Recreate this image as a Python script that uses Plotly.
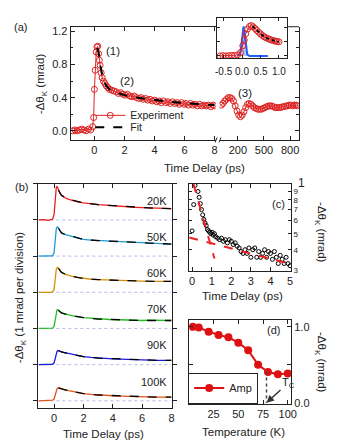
import plotly.graph_objects as go
import math

W, H = 337, 448
def X(p): return p / W
def Y(p): return 1 - p / H

RED = "#dd2222"
INK = "#222222"
FONT = "Liberation Sans, Arial, sans-serif"

# ---------------- data: panel (a) ----------------
a_t = [-1.45, -1.3, -1.15, -1.0, -0.85, -0.7, -0.55, -0.4, -0.25, -0.12, -0.05, 0.0, 0.05, 0.12, 0.17,
       0.22, 0.28, 0.33, 0.38, 0.45, 0.52, 0.6, 0.7, 0.8, 0.9, 1.0, 1.15, 1.3, 1.45, 1.6, 1.75, 1.9,
       2.05, 2.2, 2.35, 2.5, 2.65, 2.8, 2.95, 3.1, 3.25, 3.4, 3.55, 3.7, 3.85, 4.0, 4.15, 4.3, 4.45,
       4.6, 4.75, 4.9, 5.05, 5.2, 5.35, 5.5, 5.65, 5.8, 5.95, 6.1, 6.25, 6.4, 6.55, 6.7, 6.85, 7.0,
       7.15, 7.3, 7.45, 7.6, 7.75, 7.9, 8.0]
a_v = [0.00, 0.01, 0.00, 0.01, 0.02, 0.01, 0.00, 0.02, 0.01, 0.05, 0.16, 0.50, 0.73, 0.95, 1.01,
       1.02, 0.93, 0.85, 0.79, 0.70, 0.64, 0.60, 0.57, 0.54, 0.52, 0.50, 0.49, 0.48, 0.47, 0.45, 0.46, 0.44,
       0.43, 0.44, 0.42, 0.41, 0.42, 0.40, 0.39, 0.40, 0.38, 0.39, 0.37, 0.38, 0.36, 0.37, 0.35, 0.36, 0.34,
       0.36, 0.34, 0.35, 0.33, 0.35, 0.33, 0.34, 0.32, 0.34, 0.32, 0.33, 0.31, 0.33, 0.31, 0.32, 0.30, 0.32,
       0.30, 0.31, 0.30, 0.31, 0.29, 0.31, 0.30]
fit_t = [0.2, 0.3, 0.4, 0.5, 0.6, 0.8, 1.0, 1.5, 2.0, 3.0, 4.0, 5.0, 6.0, 7.0, 8.0]
fit_v = [1.0, 0.92, 0.78, 0.68, 0.61, 0.54, 0.50, 0.46, 0.43, 0.395, 0.37, 0.35, 0.335, 0.32, 0.31]

long_t = [10, 30, 50, 70, 90, 110, 130, 150, 170, 190, 210, 230, 250, 270, 290, 310, 330, 350, 370,
          390, 410, 430, 450, 470, 490, 510, 530, 550, 570, 590, 610, 630, 650, 670, 690, 710, 730,
          750, 770, 790, 810, 830, 850, 870, 885]
long_v = [0.31, 0.33, 0.36, 0.38, 0.40, 0.40, 0.39, 0.36, 0.30, 0.24, 0.19, 0.17, 0.19, 0.23, 0.28,
          0.32, 0.33, 0.32, 0.30, 0.28, 0.27, 0.26, 0.26, 0.26, 0.27, 0.28, 0.29, 0.30, 0.30, 0.30,
          0.29, 0.28, 0.28, 0.28, 0.28, 0.29, 0.29, 0.30, 0.30, 0.31, 0.31, 0.30, 0.31, 0.31, 0.30]

# inset
ins_t = [-0.6, -0.52, -0.44, -0.36, -0.28, -0.2, -0.12, -0.04, 0.02, 0.06, 0.1, 0.15, 0.2, 0.25, 0.3,
         0.35, 0.4, 0.45, 0.5, 0.55, 0.6, 0.65, 0.7, 0.75, 0.8, 0.85, 0.9, 0.95, 1.0]
ins_v = [0.0, 0.01, 0.0, 0.01, 0.02, 0.02, 0.04, 0.12, 0.35, 0.55, 0.77, 0.93, 1.02, 1.05, 1.01,
         0.95, 0.88, 0.82, 0.76, 0.71, 0.66, 0.63, 0.60, 0.57, 0.55, 0.53, 0.51, 0.50, 0.49]
ins_fit_t = [0.28, 0.4, 0.5, 0.6, 0.7, 0.8, 0.9, 1.0]
ins_fit_v = [1.03, 0.88, 0.76, 0.66, 0.60, 0.55, 0.51, 0.49]
pulse_t = [-0.12, -0.06, -0.02, 0.01, 0.04, 0.07, 0.1, 0.14, 0.2, 0.7]
pulse_v = [0.0, 0.05, 0.35, 0.8, 1.02, 0.8, 0.35, 0.05, 0.0, 0.0]

# ---------------- data: panel (b) ----------------
temps = ["20K", "50K", "60K", "70K", "90K", "100K"]
colors_b = ["#ee1c1c", "#1f9ad6", "#d4900a", "#22bb22", "#1c1cdc", "#e0561a"]
t_b = [-1.05, -0.7, -0.4, -0.2, -0.1, 0.0, 0.05, 0.1, 0.15, 0.2, 0.25, 0.3, 0.4, 0.5, 0.7, 1.0,
       1.3, 1.6, 2.0, 2.5, 3.0, 3.5, 4.0, 4.5, 5.0, 5.5, 6.0, 6.5, 7.0, 7.5, 8.0]
v_20K = [0.0, 0.01, -0.01, 0.0, 0.02, 0.15, 0.45, 0.75, 0.9, 0.93, 0.88, 0.82, 0.74, 0.68, 0.62, 0.57,
         0.53, 0.5, 0.47, 0.44, 0.42, 0.41, 0.39, 0.38, 0.36, 0.35, 0.34, 0.33, 0.32, 0.32, 0.31]
v_50K = [0.0, 0.0, 0.01, 0.0, 0.01, 0.1, 0.35, 0.6, 0.75, 0.8, 0.81, 0.77, 0.7, 0.64, 0.6, 0.57,
         0.53, 0.5, 0.46, 0.44, 0.43, 0.42, 0.41, 0.39, 0.38, 0.37, 0.36, 0.35, 0.34, 0.34, 0.33]
v_60K = [0.0, 0.01, 0.0, 0.0, 0.01, 0.08, 0.3, 0.5, 0.63, 0.68, 0.69, 0.66, 0.6, 0.55, 0.5, 0.46,
         0.43, 0.41, 0.38, 0.36, 0.35, 0.34, 0.33, 0.32, 0.32, 0.31, 0.31, 0.3, 0.3, 0.3, 0.3]
v_70K = [0.0, 0.0, 0.01, 0.0, 0.01, 0.06, 0.2, 0.35, 0.46, 0.51, 0.52, 0.5, 0.46, 0.43, 0.4, 0.37,
         0.34, 0.32, 0.3, 0.28, 0.26, 0.25, 0.24, 0.24, 0.23, 0.23, 0.22, 0.23, 0.22, 0.22, 0.22]
v_90K = [0.0, 0.0, 0.01, 0.0, 0.01, 0.05, 0.15, 0.26, 0.33, 0.37, 0.39, 0.39, 0.37, 0.35, 0.33, 0.3,
         0.27, 0.25, 0.22, 0.2, 0.18, 0.17, 0.16, 0.15, 0.14, 0.14, 0.13, 0.13, 0.12, 0.12, 0.12]
v_100K = [0.0, 0.01, 0.0, 0.01, 0.02, 0.05, 0.14, 0.24, 0.3, 0.33, 0.35, 0.36, 0.35, 0.33, 0.31, 0.28,
          0.25, 0.23, 0.2, 0.18, 0.16, 0.15, 0.14, 0.13, 0.12, 0.12, 0.11, 0.11, 0.1, 0.1, 0.1]
tf_b = [0.3, 0.5, 1.0, 1.5, 2.0, 3.0, 4.0, 5.0, 6.0, 7.0, 8.0]
f_20K = [0.82, 0.68, 0.57, 0.51, 0.47, 0.42, 0.39, 0.36, 0.34, 0.32, 0.31]
f_50K = [0.77, 0.64, 0.57, 0.51, 0.46, 0.43, 0.41, 0.38, 0.36, 0.34, 0.33]
f_60K = [0.66, 0.55, 0.46, 0.42, 0.38, 0.35, 0.33, 0.32, 0.31, 0.30, 0.30]
f_70K = [0.50, 0.43, 0.37, 0.33, 0.30, 0.26, 0.24, 0.23, 0.22, 0.22, 0.22]
f_90K = [0.39, 0.35, 0.30, 0.26, 0.22, 0.18, 0.16, 0.14, 0.13, 0.12, 0.12]
f_100K = [0.36, 0.33, 0.28, 0.24, 0.20, 0.16, 0.14, 0.12, 0.11, 0.10, 0.10]
vals_b = [v_20K, v_50K, v_60K, v_70K, v_90K, v_100K]
fits_b = [f_20K, f_50K, f_60K, f_70K, f_90K, f_100K]

# ---------------- data: panel (c) ----------------
c_t = [0.0, 0.08, 0.15, 0.3, 0.36, 0.42, 0.48, 0.54, 0.6, 0.66, 0.72, 0.78, 0.84, 0.9, 0.96, 1.02,
       1.08, 1.14, 1.2, 1.3, 1.4, 1.5, 1.6, 1.7, 1.8, 1.9, 2.0, 2.1, 2.2, 2.3, 2.4, 2.5, 2.6, 2.7,
       2.8, 2.9, 3.0, 3.1, 3.2, 3.3, 3.4, 3.5, 3.6, 3.7, 3.8, 3.9, 4.0, 4.1, 4.2, 4.3, 4.4, 4.5,
       4.6, 4.7, 4.8, 4.9, 5.0]
c_v = [0.52, 0.75, 0.98, 0.90, 0.83, 0.76, 0.70, 0.65, 0.61, 0.58, 0.56, 0.53, 0.52, 0.51, 0.50, 0.51,
       0.49, 0.50, 0.48, 0.47, 0.46, 0.47, 0.45, 0.46, 0.44, 0.46, 0.45, 0.43, 0.44, 0.42, 0.41, 0.39,
       0.38, 0.40, 0.38, 0.41, 0.36, 0.40, 0.41, 0.36, 0.39, 0.36, 0.38, 0.40, 0.36, 0.39, 0.38, 0.35,
       0.39, 0.36, 0.33, 0.37, 0.35, 0.33, 0.36, 0.33, 0.32]
fast_t = [0.07, 1.14]
fast_v = [1.0, 0.354]
slow_t = [-0.15, 5.05]
slow_v = [0.475, 0.327]

# ---------------- data: panel (d) ----------------
d_T = [4, 10, 20, 30, 40, 50, 60, 70, 80, 90, 100]
d_amp = [1.0, 0.99, 0.935, 0.89, 0.86, 0.79, 0.69, 0.50, 0.405, 0.375, 0.385]
Tc = 78.5
tc_line_v = [0.41, 0.0]

fig = go.Figure()

# panel (a)
fig.add_trace(go.Scatter(x=a_t, y=a_v, xaxis="x", yaxis="y", mode="lines+markers", name="Experiment",
                         line=dict(color=RED, width=1),
                         marker=dict(symbol="circle-open", size=6, color=RED, line=dict(width=1)),
                         legend="legend"))
fig.add_trace(go.Scatter(x=fit_t, y=fit_v, xaxis="x", yaxis="y", mode="lines", name="Fit",
                         line=dict(color="black", width=2, dash="dash"), legend="legend3"))
fig.add_trace(go.Scatter(x=long_t, y=long_v, xaxis="x2", yaxis="y2", mode="lines+markers", showlegend=False,
                         line=dict(color=RED, width=1),
                         marker=dict(symbol="circle-open", size=6, color=RED, line=dict(width=1))))
# inset
fig.add_trace(go.Scatter(x=pulse_t, y=pulse_v, xaxis="x3", yaxis="y3", mode="lines", showlegend=False,
                         fill="tozeroy", fillcolor="rgba(90,140,255,0.45)",
                         line=dict(color="#1f5fff", width=2)))
fig.add_trace(go.Scatter(x=ins_t, y=ins_v, xaxis="x3", yaxis="y3", mode="lines+markers", showlegend=False,
                         line=dict(color=RED, width=1),
                         marker=dict(symbol="circle-open", size=6, color=RED, line=dict(width=1))))
fig.add_trace(go.Scatter(x=ins_fit_t, y=ins_fit_v, xaxis="x3", yaxis="y3", mode="lines", showlegend=False,
                         line=dict(color="black", width=2, dash="dot")))

# panel (b)
n = len(temps)
for i, (lab, col, vals, fv) in enumerate(zip(temps, colors_b, vals_b, fits_b)):
    k = n - 1 - i
    fig.add_trace(go.Scatter(x=t_b, y=[v + k for v in vals], xaxis="x4", yaxis="y4", mode="lines",
                             showlegend=False, line=dict(color=col, width=1.3)))
    fig.add_trace(go.Scatter(x=tf_b, y=[v + k for v in fv], xaxis="x4", yaxis="y4", mode="lines",
                             showlegend=False, line=dict(color="black", width=1.3, dash="dash")))

# panel (c)
fig.add_trace(go.Scatter(x=c_t, y=c_v, xaxis="x5", yaxis="y5", mode="markers", showlegend=False,
                         marker=dict(symbol="circle-open", size=4, color="black", line=dict(width=1))))
fig.add_trace(go.Scatter(x=fast_t, y=fast_v, xaxis="x5", yaxis="y5", mode="lines", showlegend=False,
                         line=dict(color="#ee2222", width=2, dash="dash")))
fig.add_trace(go.Scatter(x=slow_t, y=slow_v, xaxis="x5", yaxis="y5", mode="lines", showlegend=False,
                         line=dict(color="#ee2222", width=2, dash="dash")))

# panel (d)
fig.add_trace(go.Scatter(x=d_T, y=d_amp, xaxis="x6", yaxis="y6", mode="lines+markers", name="Amp",
                         line=dict(color="#dd1111", width=2),
                         marker=dict(symbol="circle", size=8, color="#dd1111"), legend="legend2"))
fig.add_trace(go.Scatter(x=[Tc, Tc], y=tc_line_v, xaxis="x6", yaxis="y6", mode="lines", showlegend=False,
                         line=dict(color="#444444", width=1.5, dash="dot")))

ax = dict(showline=True, linecolor=INK, linewidth=1, ticks="inside", ticklen=4, tickcolor=INK,
          showgrid=False, zeroline=False, tickangle=0, tickfont=dict(size=11, color=INK, family=FONT))

fig.update_layout(
    width=W, height=H, autosize=False, margin=dict(l=0, r=0, t=0, b=0),
    paper_bgcolor="white", plot_bgcolor="rgba(0,0,0,0)",
    font=dict(family=FONT, size=11, color=INK),
    xaxis=dict(ax, domain=[X(63), X(211)], range=[-1.58, 8.07], anchor="y", tickvals=[0, 2, 4, 6, 8],
               mirror="ticks"),
    yaxis=dict(ax, domain=[Y(132), Y(17)], range=[-0.11, 1.255], anchor="x",
               tickvals=[0, 0.4, 0.8, 1.2], ticktext=["0.0", "0.4", "0.8", "1.2"],
               minor=dict(dtick=0.2, ticks="inside", ticklen=2.5, tickcolor=INK)),
    xaxis2=dict(ax, domain=[X(215), X(296)], range=[-10, 900], anchor="y2", tickvals=[200, 500, 800]),
    yaxis2=dict(ax, domain=[Y(132), Y(17)], range=[-0.11, 1.255], anchor="x2", side="right",
                showticklabels=False, tickvals=[0, 0.4, 0.8, 1.2],
                minor=dict(dtick=0.2, ticks="inside", ticklen=2.5, tickcolor=INK)),
    xaxis3=dict(ax, domain=[X(212), X(284)], range=[-0.69, 1.22], anchor="y3", mirror="ticks",
                tickvals=[-0.5, 0, 0.5, 1.0], ticktext=["-0.5", "0.0", "0.5", "1.0"], ticklen=3,
                ticklabelstandoff=4, tickfont=dict(size=10, color=INK, family=FONT)),
    yaxis3=dict(ax, domain=[Y(49), Y(8.5)], range=[-0.08, 1.30], anchor="x3", mirror="ticks",
                tickvals=[0, 0.5, 1.0], showticklabels=False, ticklen=3),
    xaxis4=dict(ax, domain=[X(30), X(166)], range=[-1.07, 8.0], anchor="y4", mirror="ticks",
                tickvals=[0, 2, 4, 6, 8]),
    yaxis4=dict(ax, domain=[Y(404), Y(176.5)], range=[-0.19, 6.0], anchor="x4", mirror="ticks",
                tickvals=[0, 1, 2, 3, 4, 5, 6], showticklabels=False, ticks="outside"),
    xaxis5=dict(ax, domain=[X(184), X(288)], range=[-0.15, 5.05], anchor="y5", mirror="ticks",
                tickvals=[0, 1, 2, 3, 4, 5]),
    yaxis5=dict(ax, type="log", domain=[Y(265), Y(176.7)], range=[math.log10(0.298), 0], anchor="x5",
                side="right", mirror="ticks", tickvals=[0.3, 0.4, 0.5, 0.6, 0.7, 0.8, 0.9],
                ticktext=["3", "4", "5", "6", "7", "8", "9"], ticklen=3,
                tickfont=dict(size=8, color=INK, family=FONT)),
    xaxis6=dict(ax, domain=[X(184), X(288)], range=[0.3, 103.3], anchor="y6", mirror="ticks",
                tickvals=[25, 50, 75, 100]),
    yaxis6=dict(ax, domain=[Y(400), Y(315)], range=[-0.013, 1.087], anchor="x6", side="right",
                mirror="ticks", tickvals=[0, 1.0], ticktext=["0.0", "1.0"],
                minor=dict(tickvals=[0.5], ticks="inside", ticklen=4, tickcolor=INK)),
    legend=dict(x=X(83), y=Y(107), xanchor="left", yanchor="middle", bgcolor="rgba(0,0,0,0)",
                font=dict(size=10.5, color=INK), itemwidth=30),
    legend3=dict(x=X(83), y=Y(119), xanchor="left", yanchor="middle", bgcolor="rgba(0,0,0,0)",
                 font=dict(size=10.5, color=INK), itemwidth=30),
    legend2=dict(x=X(183), y=Y(384), xanchor="left", yanchor="middle", bgcolor="white",
                 bordercolor=INK, borderwidth=1, font=dict(size=11, color=INK), itemwidth=30),
)

ann = []
def A(text, px, py, size=11, angle=0, xanchor="center", **kw):
    ann.append(dict(text=text, x=X(px), y=Y(py), xref="paper", yref="paper", showarrow=False,
                    font=dict(size=size, color=INK, family=FONT), textangle=angle,
                    xanchor=xanchor, yanchor="middle", **kw))

A("(a)", 12, 17, 11)
A("(b)", 13, 180, 11)
A("(c)", 275, 197, 11)
A("(d)", 270, 325, 11)
A("(1)", 106, 42, 11.5)
A("(2)", 121, 72, 11.5)
A("(3)", 241, 84, 11.5)
A("-Δθ<sub>K</sub> (mrad)", 33, 75, 11.5, -90)
A("Time Delay (ps)", 200, 160, 11.5)
A("-Δθ<sub>K</sub> (1 mrad per division)", 12, 292, 11.5, -90)
A("Time Delay (ps)", 97, 431, 11.5)
A("Time Delay (ps)", 238, 291, 11.5)
A("-Δθ<sub>K</sub> (mrad)", 318, 226, 11.5, 90)
A("Temperature (K)", 239, 429, 11.5)
A("-Δθ<sub>K</sub> (mrad)", 318, 358, 11.5, 90)
A("1", 293, 176, 12, 0, "left")

for i, lab in enumerate(temps):
    k = n - 1 - i
    ann.append(dict(text=lab, x=7.85, y=k + 0.53, xref="x4", yref="y4", showarrow=False,
                    xanchor="right", yanchor="middle", font=dict(size=11, color=INK, family=FONT)))

ann.append(dict(text="T<sub>C</sub>", x=Tc, y=0.0, xref="x6", yref="y6", showarrow=True,
                ax=22, ay=-20, arrowhead=2, arrowsize=1, arrowwidth=1.5, arrowcolor="#333333",
                font=dict(size=11, color=INK, family=FONT)))
fig.update_layout(annotations=ann)

shapes = []
for i in range(n):
    k = n - 1 - i
    shapes.append(dict(type="line", xref="x4", yref="y4", x0=-1.07, x1=8.0, y0=k, y1=k,
                       line=dict(color="#b8b8f0", width=1, dash="dot"), layer="below"))
# short top frame piece to the right of the inset and axis break marks
shapes.append(dict(type="line", xref="paper", yref="paper", x0=X(285), x1=X(296), y0=Y(17), y1=Y(17),
                   line=dict(color=INK, width=1)))
shapes.append(dict(type="line", xref="paper", yref="paper", x0=X(210.5), x1=X(212.5), y0=Y(134.5), y1=Y(129.5),
                   line=dict(color=INK, width=1)))
shapes.append(dict(type="line", xref="paper", yref="paper", x0=X(214.5), x1=X(216.5), y0=Y(134.5), y1=Y(129.5),
                   line=dict(color=INK, width=1)))
fig.update_layout(shapes=shapes)

fig.write_html("out.html")
